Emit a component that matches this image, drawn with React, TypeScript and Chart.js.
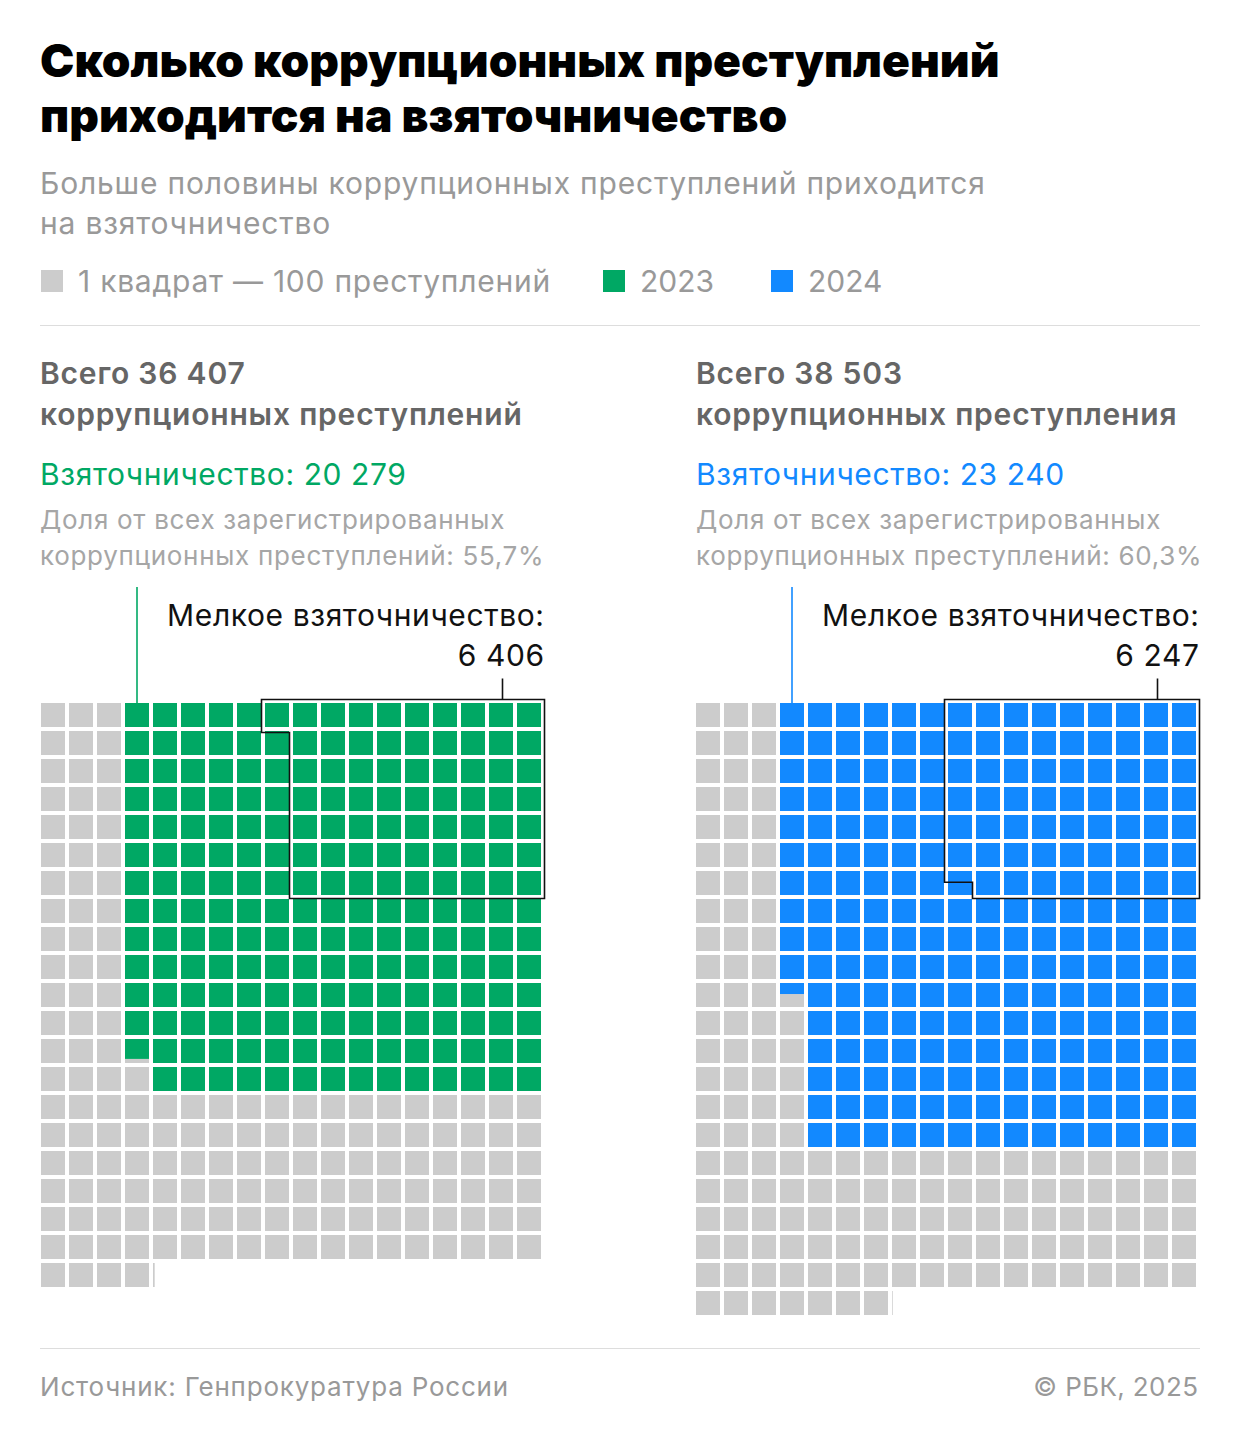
import React, { useEffect, useRef } from "react";
import { Chart, registerables } from "chart.js";

Chart.register(...registerables);

// ---------------- data ----------------
const COLUMN_LABELS = ["1", "2", "3", "4", "5", "6", "7", "8", "9", "10", "11", "12", "13", "14", "15", "16", "17", "18"];
const YEARS = ["2023", "2024"];
const TOTAL_CRIMES = [36407, 38503];
const BRIBERY_CRIMES = [20279, 23240];
const PETTY_BRIBERY = [6406, 6247];
const BRIBERY_SHARE = ["55,7%", "60,3%"];
const TOTAL_SUFFIX = ["коррупционных преступлений", "коррупционных преступления"];
const CRIMES_PER_SQUARE = 100;
// bribery squares as drawn in each column (counted from the top), left to right
const BRIBERY_SQUARES_2023 = [0, 0, 0, 12.83, 14, 14, 14, 14, 14, 14, 14, 14, 14, 14, 14, 14, 14, 14];
const BRIBERY_SQUARES_2024 = [0, 0, 0, 10.46, 16, 16, 16, 16, 16, 16, 16, 16, 16, 16, 16, 16, 16, 16];
const PETTY_COLUMN_HEIGHT = 7;

// ---------------- style ----------------
const GREEN = "#00a864";
const BLUE = "#1289ff";
const GREY = "#cccccc";
const SERIES_COLORS = [GREEN, BLUE];
const PITCH = 28; // px per square incl. gap
const K = 24 / 28; // share of the pitch filled by a square
const FONT = "Inter, 'Noto Sans', sans-serif";

const fmt = (n: number) => String(n).replace(/\B(?=(\d{3})+(?!\d))/g, " ");

const decorPlugin = {
  id: "decor",
  afterDatasetsDraw(chart: any, _args: any, opts: any) {
    const { ctx } = chart;
    const x = chart.scales.x;
    const y = chart.scales.y;
    const cols = COLUMN_LABELS.length;
    const half = (x.width / cols) * K / 2;
    const top = y.getPixelForValue(0);
    ctx.save();
    // leader line of the coloured block
    const cx = x.getPixelForValue(opts.firstColumn);
    ctx.strokeStyle = opts.color;
    ctx.lineWidth = 1.6;
    ctx.beginPath();
    ctx.moveTo(cx, top);
    ctx.lineTo(cx, top - opts.leader);
    ctx.stroke();

    // outline of petty bribery
    const S = opts.petty;
    const H = PETTY_COLUMN_HEIGHT;
    const k = Math.floor(S / H);
    const rem = S - k * H;
    const last = cols - 1;
    const p = last - k;
    const off = 3.5;
    const xLp = x.getPixelForValue(p) - half - off;
    const xLf = x.getPixelForValue(p + 1) - half - off;
    const xR = x.getPixelForValue(last) + half + off;
    const yT = top - off;
    const yB = y.getPixelForValue(H - 1 + K) + off;
    const yS = y.getPixelForValue(Math.floor(rem) + (rem - Math.floor(rem)) * K);
    ctx.strokeStyle = "#111111";
    ctx.lineWidth = 1.6;
    ctx.lineJoin = "miter";
    ctx.beginPath();
    if (rem > 0) {
      ctx.moveTo(xLp, yT);
      ctx.lineTo(xR, yT);
      ctx.lineTo(xR, yB);
      ctx.lineTo(xLf, yB);
      ctx.lineTo(xLf, yS);
      ctx.lineTo(xLp, yS);
    } else {
      ctx.moveTo(xLf, yT);
      ctx.lineTo(xR, yT);
      ctx.lineTo(xR, yB);
      ctx.lineTo(xLf, yB);
    }
    ctx.closePath();
    ctx.stroke();
    // connector to label
    ctx.beginPath();
    ctx.moveTo(xR - 42, yT);
    ctx.lineTo(xR - 42, yT - 21);
    ctx.stroke();
    ctx.restore();
  },
};

function Waffle({ idx, left, padLeft }: { idx: number; left: number; padLeft: number }) {
  const ref = useRef<HTMLCanvasElement>(null);
  const cols = COLUMN_LABELS.length;
  const total = TOTAL_CRIMES[idx] / CRIMES_PER_SQUARE;
  const fullRows = Math.floor(total / cols);
  const rest = total - fullRows * cols;
  const rows = fullRows + (rest > 1e-9 ? 1 : 0);
  const W = 620;
  const padTop = 133;
  const H = 760;
  const padBottom = H - padTop - rows * PITCH;
  const padRight = W - padLeft - cols * PITCH;

  useEffect(() => {
    const heights = idx === 0 ? BRIBERY_SQUARES_2023 : BRIBERY_SQUARES_2024;
    const restFull = Math.floor(rest + 1e-9);
    const restFrac = rest - restFull;
    const colored: any[] = [];
    const grey: any[] = [];
    for (let r = 0; r < rows; r++) {
      for (let c = 0; c < cols; c++) {
        if (!(r < fullRows || c < restFull)) continue;
        const f = Math.max(0, Math.min(1, heights[c] - r));
        if (f > 0) colored.push({ x: COLUMN_LABELS[c], y: [r, r + f * K] });
        if (f < 1) grey.push({ x: COLUMN_LABELS[c], y: [r + f * K, r + K] });
      }
    }
    const sliver: any[] = [];
    if (restFrac > 0.001) {
      sliver.push({ x: restFull - K / 2 + (restFrac * K) / 2, y: [fullRows, fullRows + K] });
    }
    const firstColumn = heights.findIndex((h) => h > 0);
    const cellPx = K * PITCH;
    const chart = new Chart(ref.current as HTMLCanvasElement, {
      type: "bar",
      data: {
        labels: COLUMN_LABELS,
        datasets: [
          {
            label: YEARS[idx],
            data: colored,
            backgroundColor: SERIES_COLORS[idx],
            barThickness: cellPx,
            grouped: false,
            inflateAmount: 0,
            order: 0,
          } as any,
          {
            label: "grey",
            data: grey,
            backgroundColor: GREY,
            barThickness: cellPx,
            grouped: false,
            inflateAmount: 0,
            order: 1,
          } as any,
          {
            label: "rest",
            data: sliver,
            xAxisID: "x2",
            backgroundColor: GREY,
            barThickness: restFrac * cellPx,
            grouped: false,
            inflateAmount: 0,
            order: 2,
          } as any,
        ],
      },
      options: {
        responsive: false,
        maintainAspectRatio: false,
        animation: false,
        layout: { padding: { left: padLeft, right: padRight, top: padTop, bottom: padBottom } },
        scales: {
          x: { type: "category", display: false, offset: true },
          x2: { type: "linear", display: false, min: -0.5, max: cols - 0.5, offset: false },
          y: { type: "linear", display: false, min: 0, max: rows, reverse: true },
        },
        plugins: {
          legend: { display: false },
          tooltip: { enabled: false },
          decor: {
            color: SERIES_COLORS[idx],
            firstColumn,
            leader: 116,
            petty: PETTY_BRIBERY[idx] / CRIMES_PER_SQUARE,
          },
        } as any,
      },
      plugins: [decorPlugin as any],
    });
    return () => chart.destroy();
  }, [idx]);

  return (
    <canvas
      ref={ref}
      width={W}
      height={H}
      style={{ position: "absolute", left, top: 570, width: W, height: H }}
    />
  );
}

// position text by baseline (Inter metrics)
const topFor = (baseline: number, size: number, lh: number) => baseline - lh / 2 - 0.3633 * size;

function T(props: {
  x: number;
  baseline: number;
  size: number;
  lh?: number;
  color: string;
  weight?: number;
  children: React.ReactNode;
  align?: "left" | "right";
  width?: number;
  ls?: number;
}) {
  const lh = props.lh ?? Math.round(props.size * 1.3);
  const style: React.CSSProperties = {
    position: "absolute",
    top: topFor(props.baseline, props.size, lh),
    fontFamily: FONT,
    fontSize: props.size,
    lineHeight: lh + "px",
    color: props.color,
    fontWeight: props.weight ?? 400,
    whiteSpace: "pre",
    letterSpacing: props.ls ?? 0,
  };
  if (props.align === "right") {
    const w = props.width ?? 600;
    style.left = props.x - w + (props.ls ?? 0);
    style.width = w;
    style.textAlign = "right";
  } else {
    style.left = props.x;
  }
  return <div style={style}>{props.children}</div>;
}

function Square({ x, color }: { x: number; color: string }) {
  return <div style={{ position: "absolute", left: x, top: 270, width: 22, height: 22, background: color }} />;
}

function Panel({ idx, x, right }: { idx: number; x: number; right: number }) {
  return (
    <>
      <T x={x} baseline={384} size={30} lh={41} color="#666666" weight={600} ls={0.8}>
        {"Всего " + fmt(TOTAL_CRIMES[idx]) + "\n" + TOTAL_SUFFIX[idx]}
      </T>
      <T x={x} baseline={485} size={30} color={SERIES_COLORS[idx]} ls={0.6}>
        {"Взяточничество: " + fmt(BRIBERY_CRIMES[idx])}
      </T>
      <T x={x} baseline={529} size={26} lh={36} color="#a6a6a6" ls={0.7}>
        {"Доля от всех зарегистрированных\nкоррупционных преступлений: " + BRIBERY_SHARE[idx]}
      </T>
      <T x={right} baseline={626} size={30} lh={40} color="#111111" align="right" ls={0.6}>
        {"Мелкое взяточничество:\n" + fmt(PETTY_BRIBERY[idx])}
      </T>
    </>
  );
}

export default function App() {
  return (
    <div style={{ position: "absolute", left: 0, top: 0, width: 1240, height: 1436, background: "#ffffff", overflow: "hidden" }}>
      <T x={40} baseline={77} size={46} lh={55} color="#000000" weight={900}>
        {"Сколько коррупционных преступлений\nприходится на взяточничество"}
      </T>
      <T x={40} baseline={194} size={30} lh={40} color="#999999" ls={0.8}>
        {"Больше половины коррупционных преступлений приходится\nна взяточничество"}
      </T>
      <Square x={41} color={GREY} />
      <T x={78} baseline={292} size={30} color="#999999" ls={0.75}>{"1 квадрат — " + CRIMES_PER_SQUARE + " преступлений"}</T>
      <Square x={603} color={GREEN} />
      <T x={640} baseline={292} size={30} color="#999999">{YEARS[0]}</T>
      <Square x={771} color={BLUE} />
      <T x={808} baseline={292} size={30} color="#999999">{YEARS[1]}</T>
      <div style={{ position: "absolute", left: 40, top: 325, width: 1160, height: 1, background: "#dddddd" }} />

      <Panel idx={0} x={40} right={544} />
      <Panel idx={1} x={696} right={1199} />

      <Waffle idx={0} left={0} padLeft={39} />
      <Waffle idx={1} left={620} padLeft={74} />

      <div style={{ position: "absolute", left: 40, top: 1348, width: 1160, height: 1, background: "#dddddd" }} />
      <T x={40} baseline={1396} size={26} color="#999999" ls={0.8}>Источник: Генпрокуратура России</T>
      <T x={1198} baseline={1396} size={26} color="#999999" align="right" ls={0.4}>© РБК, 2025</T>
    </div>
  );
}
